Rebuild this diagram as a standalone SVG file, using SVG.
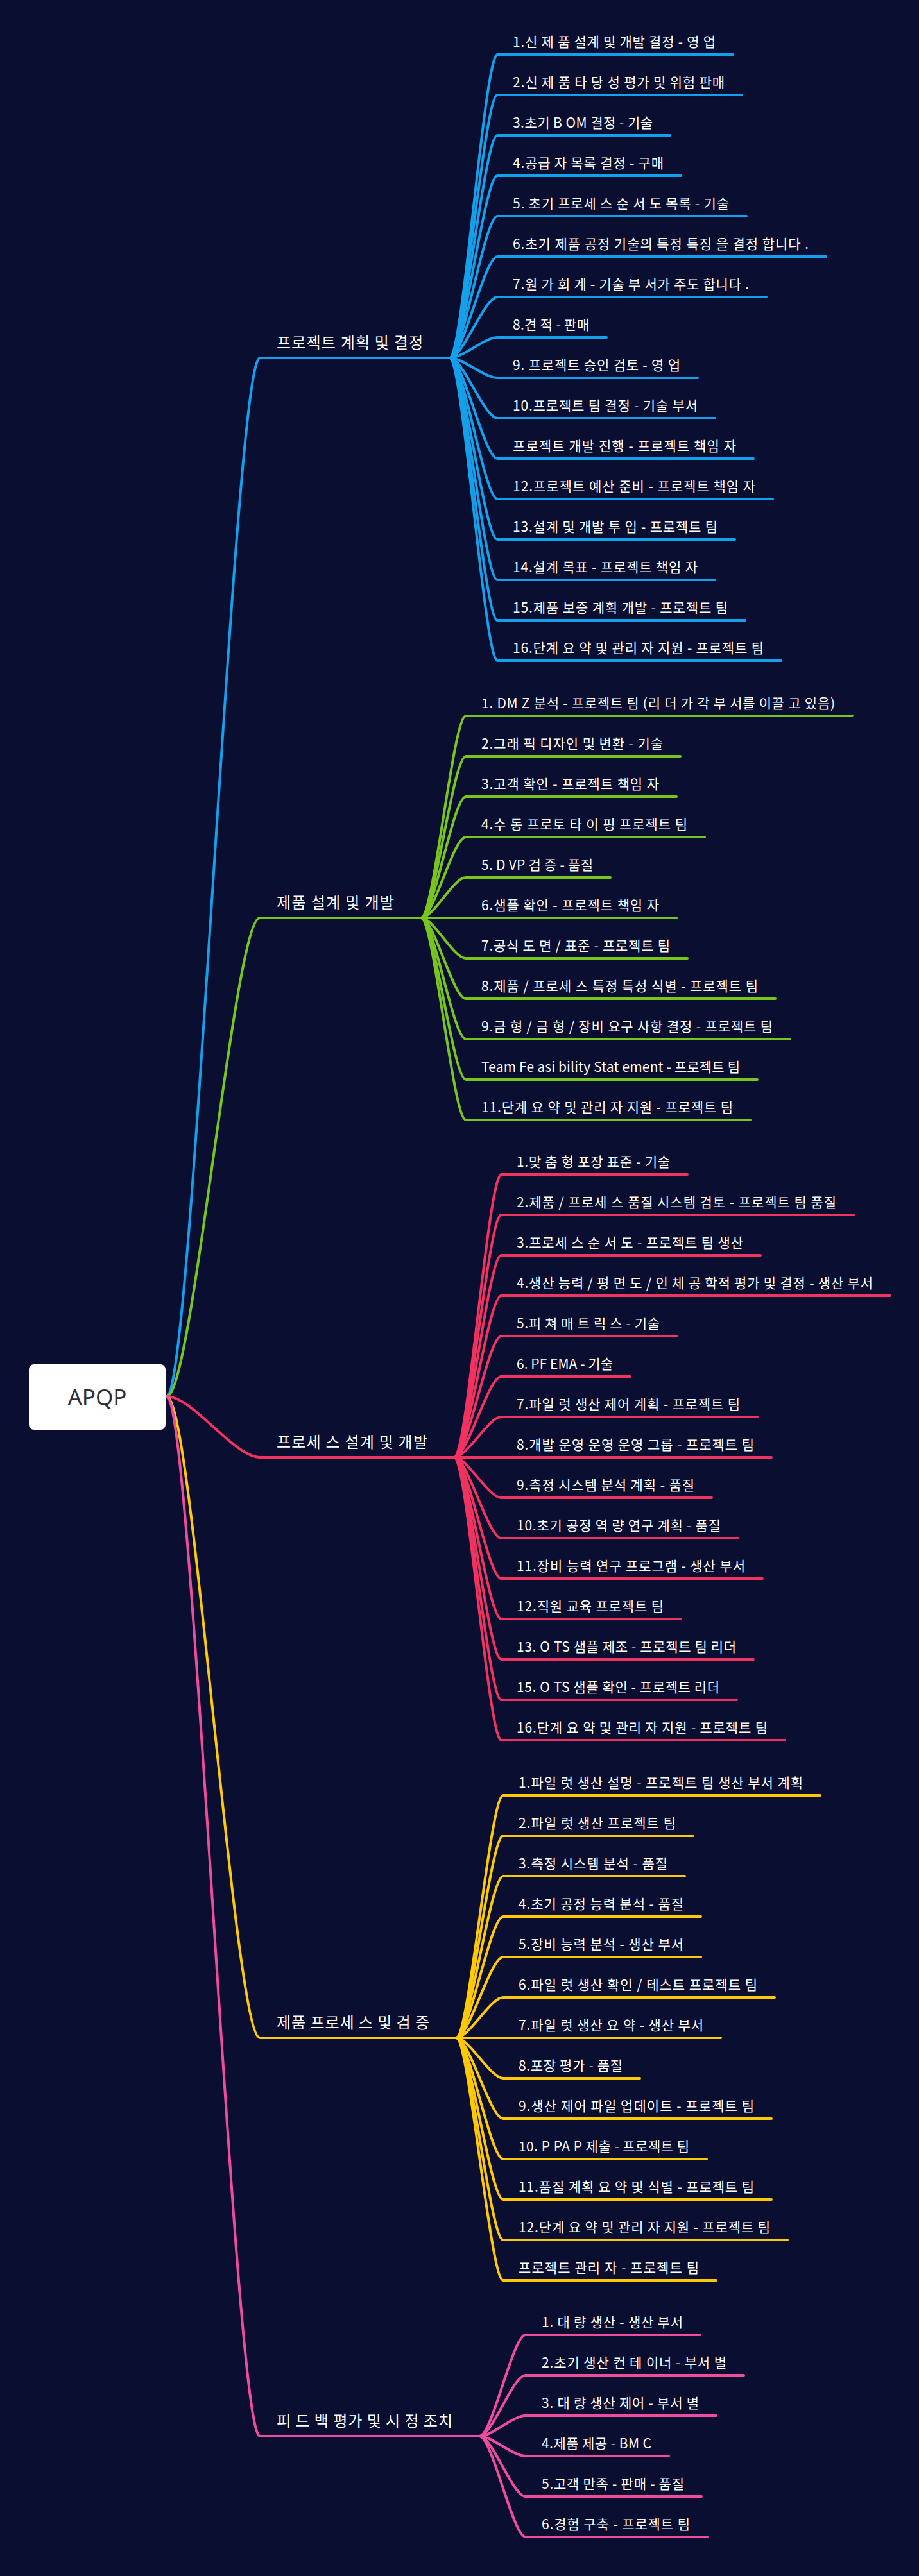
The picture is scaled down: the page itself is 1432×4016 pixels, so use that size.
<svg xmlns="http://www.w3.org/2000/svg" width="1432" height="4016" viewBox="0 0 1432 4016">
<style>
.bg{fill:#0a0e31}
.ln{fill:none;stroke-width:4;stroke-linecap:round;stroke-linejoin:round}
.c1{stroke:#14a0ea}.c2{stroke:#78c51e}.c3{stroke:#f2325f}.c4{stroke:#ffc905}.c5{stroke:#f04c9c}
text{font-family:"Noto Sans CJK KR","Noto Sans",sans-serif;fill:#ffffff}
.it{font-size:21px}
.nd{font-size:24px}
.root{font-family:"Noto Sans","Noto Sans CJK KR",sans-serif;font-size:35px;fill:#2b2f38;text-anchor:middle}
</style>
<rect class="bg" x="0" y="0" width="1432" height="4016"/>
<g id="connectors">
<path class="ln c1" d="M260 2177C300 2177 365 558 405 558H701"/>
<path class="ln c2" d="M260 2177C300 2177 365 1431 405 1431H656"/>
<path class="ln c3" d="M260 2177C300 2177 365 2272 405 2272H708"/>
<path class="ln c4" d="M260 2177C300 2177 365 3177 405 3177H711"/>
<path class="ln c5" d="M260 2177C300 2177 365 3798 405 3798H747"/>
<g class="ln c1">
<path d="M701 558C721 558 755 85 775 85H1142"/>
<path d="M701 558C721 558 755 148 775 148H1156"/>
<path d="M701 558C721 558 755 211 775 211H1044"/>
<path d="M701 558C721 558 755 274 775 274H1061"/>
<path d="M701 558C721 558 755 337 775 337H1163"/>
<path d="M701 558C721 558 755 400 775 400H1287"/>
<path d="M701 558C721 558 755 463 775 463H1194"/>
<path d="M701 558C721 558 755 526 775 526H945"/>
<path d="M701 558C721 558 755 589 775 589H1087"/>
<path d="M701 558C721 558 755 652 775 652H1114"/>
<path d="M701 558C721 558 755 715 775 715H1174"/>
<path d="M701 558C721 558 755 778 775 778H1204"/>
<path d="M701 558C721 558 755 841 775 841H1145"/>
<path d="M701 558C721 558 755 904 775 904H1114"/>
<path d="M701 558C721 558 755 967 775 967H1161"/>
<path d="M701 558C721 558 755 1030 775 1030H1217"/>
</g>
<g class="ln c2">
<path d="M656 1431C676 1431 706 1116 726 1116H1328"/>
<path d="M656 1431C676 1431 706 1179 726 1179H1060"/>
<path d="M656 1431C676 1431 706 1242 726 1242H1054"/>
<path d="M656 1431C676 1431 706 1305 726 1305H1098"/>
<path d="M656 1431C676 1431 706 1368 726 1368H951"/>
<path d="M656 1431H1054"/>
<path d="M656 1431C676 1431 706 1494 726 1494H1071"/>
<path d="M656 1431C676 1431 706 1557 726 1557H1208"/>
<path d="M656 1431C676 1431 706 1620 726 1620H1231"/>
<path d="M656 1431C676 1431 706 1683 726 1683H1180"/>
<path d="M656 1431C676 1431 706 1746 726 1746H1169"/>
</g>
<g class="ln c3">
<path d="M708 2272C728 2272 761 1831 781 1831H1071"/>
<path d="M708 2272C728 2272 761 1894 781 1894H1330"/>
<path d="M708 2272C728 2272 761 1957 781 1957H1185"/>
<path d="M708 2272C728 2272 761 2020 781 2020H1387"/>
<path d="M708 2272C728 2272 761 2083 781 2083H1055"/>
<path d="M708 2272C728 2272 761 2146 781 2146H982"/>
<path d="M708 2272C728 2272 761 2209 781 2209H1180"/>
<path d="M708 2272H1202"/>
<path d="M708 2272C728 2272 761 2335 781 2335H1109"/>
<path d="M708 2272C728 2272 761 2398 781 2398H1150"/>
<path d="M708 2272C728 2272 761 2461 781 2461H1188"/>
<path d="M708 2272C728 2272 761 2524 781 2524H1061"/>
<path d="M708 2272C728 2272 761 2587 781 2587H1174"/>
<path d="M708 2272C728 2272 761 2650 781 2650H1148"/>
<path d="M708 2272C728 2272 761 2713 781 2713H1223"/>
</g>
<g class="ln c4">
<path d="M711 3177C731 3177 764 2799 784 2799H1278"/>
<path d="M711 3177C731 3177 764 2862 784 2862H1080"/>
<path d="M711 3177C731 3177 764 2925 784 2925H1067"/>
<path d="M711 3177C731 3177 764 2988 784 2988H1092"/>
<path d="M711 3177C731 3177 764 3051 784 3051H1092"/>
<path d="M711 3177C731 3177 764 3114 784 3114H1207"/>
<path d="M711 3177H1123"/>
<path d="M711 3177C731 3177 764 3240 784 3240H997"/>
<path d="M711 3177C731 3177 764 3303 784 3303H1202"/>
<path d="M711 3177C731 3177 764 3366 784 3366H1101"/>
<path d="M711 3177C731 3177 764 3429 784 3429H1202"/>
<path d="M711 3177C731 3177 764 3492 784 3492H1227"/>
<path d="M711 3177C731 3177 764 3555 784 3555H1116"/>
</g>
<g class="ln c5">
<path d="M747 3798C767 3798 799 3640 819 3640H1091"/>
<path d="M747 3798C767 3798 799 3703 819 3703H1159"/>
<path d="M747 3798C767 3798 799 3766 819 3766H1116"/>
<path d="M747 3798C767 3798 799 3829 819 3829H1042"/>
<path d="M747 3798C767 3798 799 3892 819 3892H1093"/>
<path d="M747 3798C767 3798 799 3955 819 3955H1102"/>
</g>
</g>
<g id="root">
<rect x="45" y="2127" width="213" height="102" rx="8" fill="#ffffff"/>
<text class="root" x="151.5" y="2191">APQP</text>
</g>
<g id="b1">
<text class="nd" x="431" y="543" textLength="228">프로젝트 계획 및 결정</text>
</g>
<g id="b1-items">
<text class="it" x="799" y="73" textLength="316">1.신 제 품 설계 및 개발 결정 - 영 업</text>
<text class="it" x="799" y="136" textLength="330">2.신 제 품 타 당 성 평가 및 위험 판매</text>
<text class="it" x="799" y="199" textLength="218">3.초기 B OM 결정 - 기술</text>
<text class="it" x="799" y="262" textLength="235">4.공급 자 목록 결정 - 구매</text>
<text class="it" x="799" y="325" textLength="337">5. 초기 프로세 스 순 서 도 목록 - 기술</text>
<text class="it" x="799" y="388" textLength="461">6.초기 제품 공정 기술의 특정 특징 을 결정 합니다 .</text>
<text class="it" x="799" y="451" textLength="368">7.원 가 회 계 - 기술 부 서가 주도 합니다 .</text>
<text class="it" x="799" y="514" textLength="119">8.견 적 - 판매</text>
<text class="it" x="799" y="577" textLength="261">9. 프로젝트 승인 검토 - 영 업</text>
<text class="it" x="799" y="640" textLength="288">10.프로젝트 팀 결정 - 기술 부서</text>
<text class="it" x="799" y="703" textLength="348">프로젝트 개발 진행 - 프로젝트 책임 자</text>
<text class="it" x="799" y="766" textLength="378">12.프로젝트 예산 준비 - 프로젝트 책임 자</text>
<text class="it" x="799" y="829" textLength="319">13.설계 및 개발 투 입 - 프로젝트 팀</text>
<text class="it" x="799" y="892" textLength="288">14.설계 목표 - 프로젝트 책임 자</text>
<text class="it" x="799" y="955" textLength="335">15.제품 보증 계획 개발 - 프로젝트 팀</text>
<text class="it" x="799" y="1018" textLength="391">16.단계 요 약 및 관리 자 지원 - 프로젝트 팀</text>
</g>
<g id="b2">
<text class="nd" x="431" y="1416" textLength="183">제품 설계 및 개발</text>
</g>
<g id="b2-items">
<text class="it" x="750" y="1104" textLength="551">1. DM Z 분석 - 프로젝트 팀 (리 더 가 각 부 서를 이끌 고 있음)</text>
<text class="it" x="750" y="1167" textLength="283">2.그래 픽 디자인 및 변환 - 기술</text>
<text class="it" x="750" y="1230" textLength="277">3.고객 확인 - 프로젝트 책임 자</text>
<text class="it" x="750" y="1293" textLength="321">4.수 동 프로토 타 이 핑 프로젝트 팀</text>
<text class="it" x="750" y="1356" textLength="174">5. D VP 검 증 - 품질</text>
<text class="it" x="750" y="1419" textLength="277">6.샘플 확인 - 프로젝트 책임 자</text>
<text class="it" x="750" y="1482" textLength="294">7.공식 도 면 / 표준 - 프로젝트 팀</text>
<text class="it" x="750" y="1545" textLength="431">8.제품 / 프로세 스 특정 특성 식별 - 프로젝트 팀</text>
<text class="it" x="750" y="1608" textLength="454">9.금 형 / 금 형 / 장비 요구 사항 결정 - 프로젝트 팀</text>
<text class="it" x="750" y="1671" textLength="403">Team Fe asi bility Stat ement - 프로젝트 팀</text>
<text class="it" x="750" y="1734" textLength="392">11.단계 요 약 및 관리 자 지원 - 프로젝트 팀</text>
</g>
<g id="b3">
<text class="nd" x="431" y="2257" textLength="235">프로세 스 설계 및 개발</text>
</g>
<g id="b3-items">
<text class="it" x="805" y="1819" textLength="239">1.맞 춤 형 포장 표준 - 기술</text>
<text class="it" x="805" y="1882" textLength="498">2.제품 / 프로세 스 품질 시스템 검토 - 프로젝트 팀 품질</text>
<text class="it" x="805" y="1945" textLength="353">3.프로세 스 순 서 도 - 프로젝트 팀 생산</text>
<text class="it" x="805" y="2008" textLength="555">4.생산 능력 / 평 면 도 / 인 체 공 학적 평가 및 결정 - 생산 부서</text>
<text class="it" x="805" y="2071" textLength="223">5.피 쳐 매 트 릭 스 - 기술</text>
<text class="it" x="805" y="2134" textLength="150">6. PF EMA - 기술</text>
<text class="it" x="805" y="2197" textLength="348">7.파일 럿 생산 제어 계획 - 프로젝트 팀</text>
<text class="it" x="805" y="2260" textLength="370">8.개발 운영 운영 운영 그룹 - 프로젝트 팀</text>
<text class="it" x="805" y="2323" textLength="277">9.측정 시스템 분석 계획 - 품질</text>
<text class="it" x="805" y="2386" textLength="318">10.초기 공정 역 량 연구 계획 - 품질</text>
<text class="it" x="805" y="2449" textLength="356">11.장비 능력 연구 프로그램 - 생산 부서</text>
<text class="it" x="805" y="2512" textLength="229">12.직원 교육 프로젝트 팀</text>
<text class="it" x="805" y="2575" textLength="342">13. O TS 샘플 제조 - 프로젝트 팀 리더</text>
<text class="it" x="805" y="2638" textLength="316">15. O TS 샘플 확인 - 프로젝트 리더</text>
<text class="it" x="805" y="2701" textLength="391">16.단계 요 약 및 관리 자 지원 - 프로젝트 팀</text>
</g>
<g id="b4">
<text class="nd" x="431" y="3162" textLength="238">제품 프로세 스 및 검 증</text>
</g>
<g id="b4-items">
<text class="it" x="808" y="2787" textLength="443">1.파일 럿 생산 설명 - 프로젝트 팀 생산 부서 계획</text>
<text class="it" x="808" y="2850" textLength="245">2.파일 럿 생산 프로젝트 팀</text>
<text class="it" x="808" y="2913" textLength="232">3.측정 시스템 분석 - 품질</text>
<text class="it" x="808" y="2976" textLength="257">4.초기 공정 능력 분석 - 품질</text>
<text class="it" x="808" y="3039" textLength="257">5.장비 능력 분석 - 생산 부서</text>
<text class="it" x="808" y="3102" textLength="372">6.파일 럿 생산 확인 / 테스트 프로젝트 팀</text>
<text class="it" x="808" y="3165" textLength="288">7.파일 럿 생산 요 약 - 생산 부서</text>
<text class="it" x="808" y="3228" textLength="162">8.포장 평가 - 품질</text>
<text class="it" x="808" y="3291" textLength="367">9.생산 제어 파일 업데이트 - 프로젝트 팀</text>
<text class="it" x="808" y="3354" textLength="266">10. P PA P 제출 - 프로젝트 팀</text>
<text class="it" x="808" y="3417" textLength="367">11.품질 계획 요 약 및 식별 - 프로젝트 팀</text>
<text class="it" x="808" y="3480" textLength="392">12.단계 요 약 및 관리 자 지원 - 프로젝트 팀</text>
<text class="it" x="808" y="3543" textLength="281">프로젝트 관리 자 - 프로젝트 팀</text>
</g>
<g id="b5">
<text class="nd" x="431" y="3783" textLength="274">피 드 백 평가 및 시 정 조치</text>
</g>
<g id="b5-items">
<text class="it" x="844" y="3628" textLength="220">1. 대 량 생산 - 생산 부서</text>
<text class="it" x="844" y="3691" textLength="288">2.초기 생산 컨 테 이너 - 부서 별</text>
<text class="it" x="844" y="3754" textLength="245">3. 대 량 생산 제어 - 부서 별</text>
<text class="it" x="844" y="3817" textLength="171">4.제품 제공 - BM C</text>
<text class="it" x="844" y="3880" textLength="222">5.고객 만족 - 판매 - 품질</text>
<text class="it" x="844" y="3943" textLength="231">6.경험 구축 - 프로젝트 팀</text>
</g>
</svg>
